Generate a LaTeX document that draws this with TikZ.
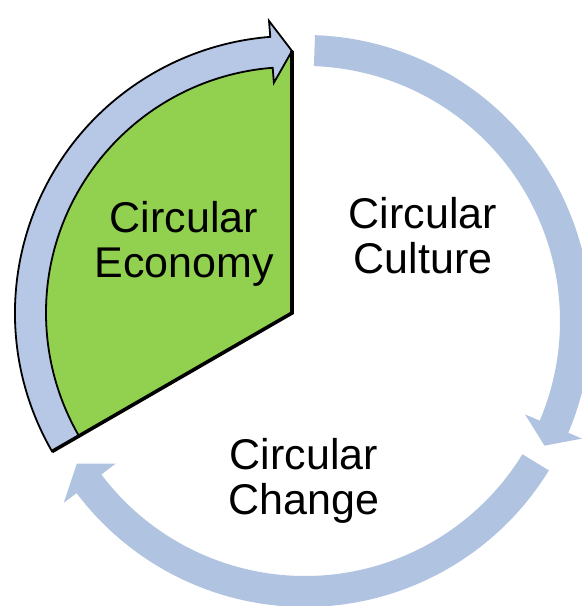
\documentclass[tikz,border=0pt]{standalone}
\usepackage{fontspec}
\setmainfont{Liberation Sans}
\definecolor{ringblue}{HTML}{B0C3E0}
\definecolor{segblue}{HTML}{B6C8E6}
\definecolor{seggreen}{HTML}{92D050}
\begin{document}
\begin{tikzpicture}[x=1bp,y=1bp,
  plainarrow/.style={fill=ringblue, draw=none},
  hilitearrow/.style={fill=segblue, draw=black, line width=1.8bp, line join=miter},
  wedge/.style={fill=seggreen, draw=none},
  wedgeedge/.style={draw=black, line width=3.6bp, line join=miter, line cap=butt},
  caption/.style={inner sep=0pt, align=center, text=black,
    font=\fontsize{43bp}{45bp}\selectfont}]
\useasboundingbox (0,0) rectangle (582,606);

\coordinate (O) at (305,285);
\coordinate (V) at (292,293);

% outer ring arrows around the common centre
\begin{scope}[shift={(O)}]
  % right arrow, running clockwise down the right side
  \fill[plainarrow] (88:286) arc[start angle=88, end angle=-23, radius=286]
    -- (-23:301) -- (-27.5:270) -- (-23:239) -- (-23:255)
    arc[start angle=-23, end angle=88, radius=255] -- cycle;
  % bottom arrow, running clockwise under the circle
  \fill[plainarrow] (-31.5:286) arc[start angle=-31.5, end angle=-143, radius=286]
    -- (-143:302) -- (-148:269) -- (-143:237) -- (-143:255)
    arc[start angle=-143, end angle=-31.5, radius=255] -- cycle;
\end{scope}

% highlighted segment, pulled out from the centre
\begin{scope}[shift={(V)}]
  \fill[wedge] (0,0) -- (90:262) arc[start angle=90, end angle=210, radius=262] -- cycle;
  \filldraw[hilitearrow] (210:277) arc[start angle=210, end angle=94.5, radius=277]
    -- (94.5:293) -- (90:262) -- (94.5:231) -- (94.5:246)
    arc[start angle=94.5, end angle=210, radius=246] -- cycle;
  \draw[wedgeedge] (90:262) -- (0,0) -- (210:277);
\end{scope}

\node[caption] (economy) at (184,362) {Circular\\Economy};
\node[caption] (culture) at (423,370) {Circular\\Culture};
\node[caption] (change) at (304,125) {Circular\\Change};
\end{tikzpicture}
\end{document}
